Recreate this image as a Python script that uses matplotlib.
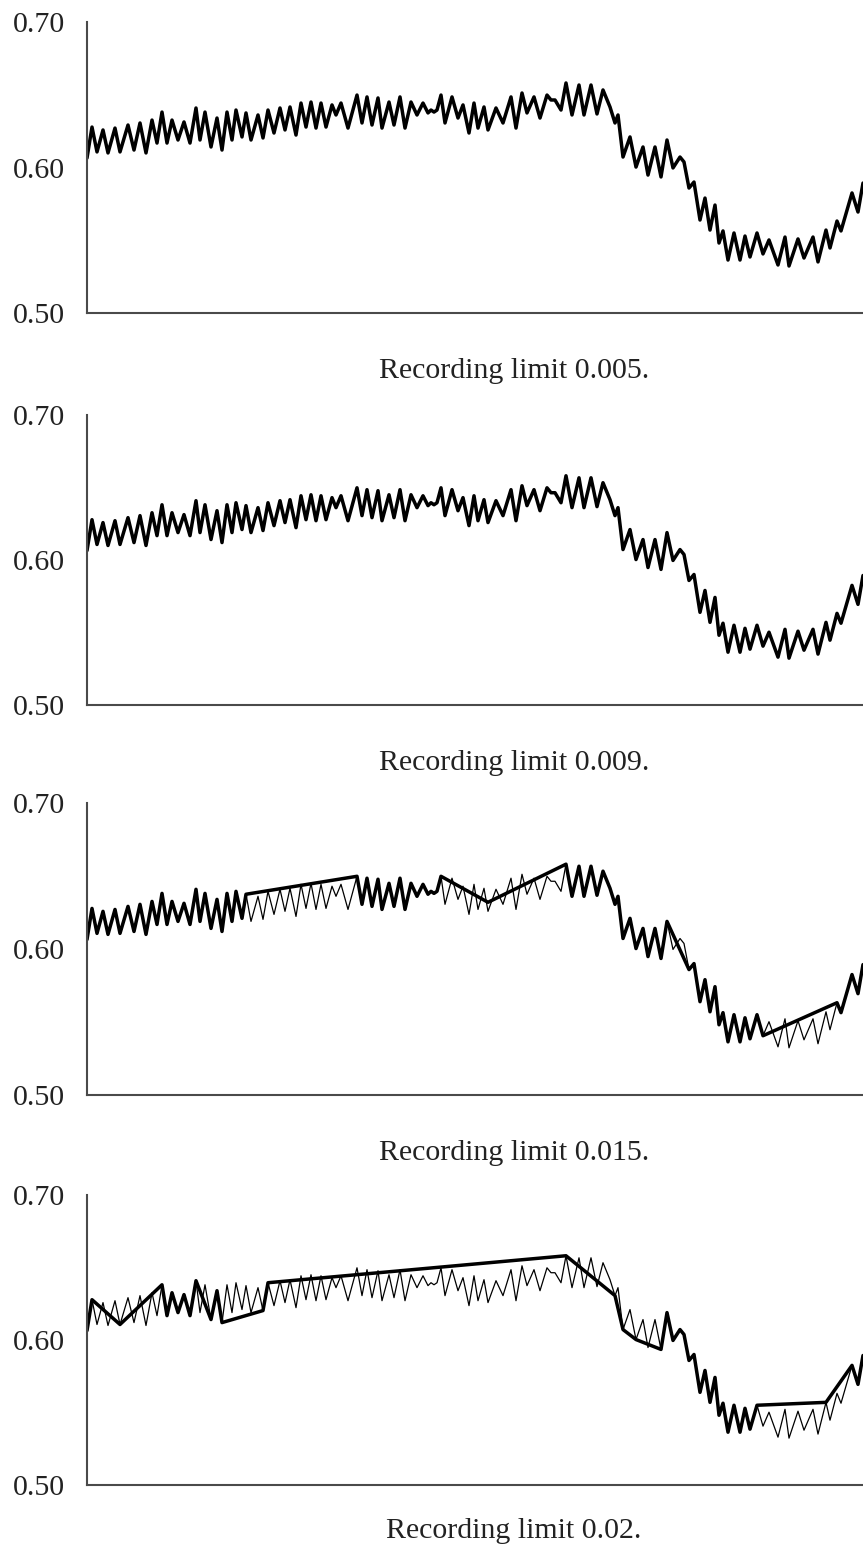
import matplotlib
matplotlib.use("Agg")
import matplotlib.pyplot as plt

plt.rcParams['font.family'] = ['Liberation Serif', 'DejaVu Serif']

# Process signal: time (min) and measured value
time_min = [0, 5, 10, 16, 21, 28, 33, 41, 47, 53, 59, 65, 70, 75, 80, 85, 91, 97,
            103, 109, 113, 118, 124, 130, 135, 140, 145, 149, 155, 159, 164, 171,
            176, 181, 187, 193, 198, 203, 209, 214, 219, 224, 229, 234, 239, 245,
            249, 254, 261, 270, 275, 280, 285, 291, 295, 302, 307, 313, 318, 324,
            330, 336, 341, 344, 347, 350, 354, 358, 365, 371, 376, 382, 387, 391,
            397, 401, 409, 416, 424, 429, 435, 440, 447, 453, 460, 464, 468, 474,
            479, 485, 492, 497, 504, 510, 516, 523, 528, 531, 536, 543, 549, 556,
            561, 568, 574, 580, 586, 593, 597, 602, 607, 613, 618, 623, 628, 632,
            636, 641, 647, 653, 658, 663, 670, 676, 682, 691, 698, 702, 711, 717,
            726, 731, 739, 743, 750, 754, 765, 771, 776]
signal = [0.6065, 0.6278, 0.6107, 0.6258, 0.6100, 0.6271, 0.6107, 0.6292, 0.6120,
          0.6306, 0.6100, 0.6326, 0.6168, 0.6381, 0.6168, 0.6326, 0.6189, 0.6313,
          0.6168, 0.6409, 0.6189, 0.6381, 0.6141, 0.6340, 0.6120, 0.6381, 0.6189,
          0.6395, 0.6210, 0.6375, 0.6189, 0.6361, 0.6203, 0.6395, 0.6237, 0.6409,
          0.6258, 0.6416, 0.6223, 0.6443, 0.6278, 0.6450, 0.6271, 0.6443, 0.6278,
          0.6430, 0.6361, 0.6443, 0.6271, 0.6498, 0.6306, 0.6485, 0.6292, 0.6478,
          0.6271, 0.6450, 0.6292, 0.6485, 0.6271, 0.6450, 0.6361, 0.6443, 0.6375,
          0.6395, 0.6381, 0.6395, 0.6498, 0.6306, 0.6485, 0.6340, 0.6430, 0.6237,
          0.6443, 0.6271, 0.6416, 0.6258, 0.6409, 0.6306, 0.6485, 0.6271, 0.6512,
          0.6375, 0.6485, 0.6340, 0.6498, 0.6464, 0.6464, 0.6395, 0.6581, 0.6361,
          0.6567, 0.6361, 0.6567, 0.6368, 0.6533, 0.6416, 0.6306, 0.6361, 0.6072,
          0.6210, 0.6003, 0.6141, 0.5948, 0.6141, 0.5935, 0.6189, 0.5997, 0.6072,
          0.6038, 0.5859, 0.5900, 0.5639, 0.5790, 0.5570, 0.5742, 0.5481, 0.5564,
          0.5364, 0.5550, 0.5364, 0.5529, 0.5385, 0.5550, 0.5406, 0.5502, 0.5330,
          0.5522, 0.5323, 0.5509, 0.5378, 0.5522, 0.5351, 0.5570, 0.5447, 0.5632,
          0.5564, 0.5825, 0.5694, 0.5893]

# Recorded series for each recording limit (stored points only)
rec_005_t, rec_005_v = time_min, signal
rec_009_t, rec_009_v = time_min, signal

rec_015_t = (time_min[:30]
             + [270, 275, 280, 285, 291, 295, 302, 307, 313, 318, 324, 330, 336,
                341, 344, 347, 350, 354, 401, 479, 485, 492, 497, 504, 510, 516,
                523, 528, 531, 536, 543, 549, 556, 561, 568, 574, 580, 602, 607,
                613, 618, 623, 628, 632, 636, 641, 647, 653, 658, 663, 670, 676,
                750, 754, 765, 771, 776])
rec_015_v = (signal[:30]
             + [0.6498, 0.6306, 0.6485, 0.6292, 0.6478, 0.6271, 0.6450, 0.6292,
                0.6485, 0.6271, 0.6450, 0.6361, 0.6443, 0.6375, 0.6395, 0.6381,
                0.6395, 0.6498, 0.6320, 0.6581, 0.6361, 0.6567, 0.6361, 0.6567,
                0.6368, 0.6533, 0.6416, 0.6306, 0.6361, 0.6072, 0.6210, 0.6003,
                0.6141, 0.5948, 0.6141, 0.5935, 0.6189, 0.5859, 0.5900, 0.5639,
                0.5790, 0.5570, 0.5742, 0.5481, 0.5564, 0.5364, 0.5550, 0.5364,
                0.5529, 0.5385, 0.5550, 0.5406, 0.5632, 0.5564, 0.5825, 0.5694,
                0.5893])

rec_02_t = [0, 5, 33, 75, 80, 85, 91, 97, 103, 109, 124, 130, 135, 176, 181, 479,
            528, 536, 549, 574, 580, 586, 593, 597, 602, 607, 613, 618, 623, 628,
            632, 636, 641, 647, 653, 658, 663, 670, 739, 765, 771, 776]
rec_02_v = [0.6065, 0.6278, 0.6107, 0.6381, 0.6168, 0.6326, 0.6189, 0.6313,
            0.6168, 0.6409, 0.6141, 0.6340, 0.6120, 0.6203, 0.6395, 0.6581,
            0.6306, 0.6072, 0.6003, 0.5935, 0.6189, 0.5997, 0.6072, 0.6038,
            0.5859, 0.5900, 0.5639, 0.5790, 0.5570, 0.5742, 0.5481, 0.5564,
            0.5364, 0.5550, 0.5364, 0.5529, 0.5385, 0.5550, 0.5570, 0.5825,
            0.5694, 0.5893]

limits = ["0.005", "0.009", "0.015", "0.02"]
recorded = [(rec_005_t, rec_005_v), (rec_009_t, rec_009_v),
            (rec_015_t, rec_015_v), (rec_02_t, rec_02_v)]

y_ticks = [0.50, 0.60, 0.70]
y_tick_labels = ["0.50", "0.60", "0.70"]

W, H = 863, 1558
fig = plt.figure(figsize=(W / 100, H / 100), dpi=100)

left_px = 87
panel_top_px = [22, 415, 803, 1195]
panel_bottom_px = [313, 705, 1095, 1485]
caption_base_px = [378, 770, 1160, 1538]
axis_color = "#4a4a4a"

for i, lim in enumerate(limits):
    top, bot = panel_top_px[i], panel_bottom_px[i]
    ax = fig.add_axes([left_px / W, 1 - bot / H, (W - left_px) / W, (bot - top) / H])
    ax.plot(time_min, signal, color="black", lw=0.9, solid_joinstyle="round")
    rt, rv = recorded[i]
    ax.plot(rt, rv, color="black", lw=2.5, solid_joinstyle="round",
            solid_capstyle="round")
    ax.set_xlim(0, 776)
    ax.set_ylim(0.50, 0.70)
    ax.set_yticks(y_ticks)
    ax.set_yticklabels(y_tick_labels)
    ax.set_xticks([])
    ax.tick_params(axis="y", length=0, pad=16, labelsize=21.5, colors="#222222")
    for s in ("top", "right"):
        ax.spines[s].set_visible(False)
    for s in ("left", "bottom"):
        ax.spines[s].set_color(axis_color)
        ax.spines[s].set_linewidth(1.5)
    fig.text(514 / W, 1 - caption_base_px[i] / H, "Recording limit " + lim + ".",
             ha="center", va="baseline", fontsize=21.5, color="#222222")

fig.savefig("out.png", dpi=100, facecolor="white")
